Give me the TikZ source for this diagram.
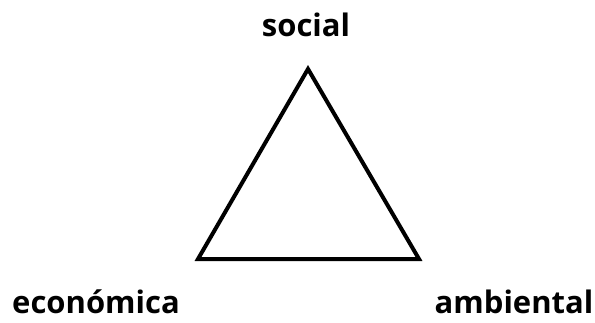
\documentclass[tikz,border=0pt]{standalone}
\usepackage{fontspec}
\setmainfont{Open Sans}
\begin{document}
\begin{tikzpicture}[x=1pt,y=-1pt,
  lbl/.style={anchor=base,inner sep=0pt,font=\fontsize{31}{31}\selectfont\bfseries},
  tri/.style={draw=black,line width=4pt,line join=miter}]
\useasboundingbox (0,0) rectangle (595,322);
\fill[white] (0,0) rectangle (595,322);
\coordinate (top) at (308,69);
\coordinate (bl) at (198,259);
\coordinate (br) at (419,259);
\draw[tri] (top) -- (br) -- (bl) -- cycle;
\node[lbl] (social) at (306,36) {social};
\node[lbl] (eco) at (96,313) {económica};
\node[lbl] (amb) at (514,313) {ambiental};
\end{tikzpicture}
\end{document}
